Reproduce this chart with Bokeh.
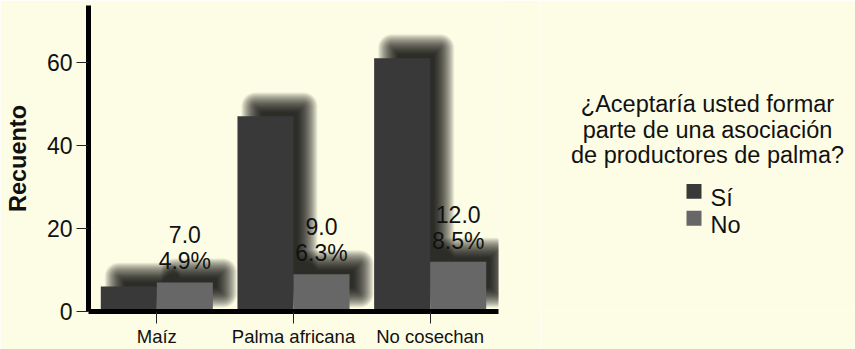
from bokeh.plotting import figure
from bokeh.models import Range1d, FixedTicker
from bokeh.layouts import row
from bokeh.embed import file_html
from bokeh.resources import INLINE
from bokeh.core.properties import value

# ---------------- data ----------------
categories = ["Maíz", "Palma africana", "No cosechan"]
series_names = ["Sí", "No"]
si_counts = [6, 47, 61]
no_counts = [7, 9, 12]
y_ticks = [0, 20, 40, 60]
legend_title = ["¿Aceptaría usted formar", "parte de una asociación", "de productores de palma?"]

# ---------------- style ----------------
BG = "#fdfde6"
C_SI = "#393939"
C_NO = "#676767"
FONT = "Liberation Sans"
TXT = "#111111"

W1, W2, H = 540, 315, 349
BL, BR, BT, BB = 88, 42, 5, 37
Y_MAX = 73.7
n = len(categories)
frame_w = W1 - BL - BR
frame_h = H - BT - BB
px_x = frame_w / n
px_y = frame_h / Y_MAX
BW = 0.41  # bar width in category units

total = sum(si_counts) + sum(no_counts)
centers = [i + 0.5 for i in range(n)]

p = figure(width=W1, height=H, x_range=Range1d(0, n), y_range=Range1d(0, Y_MAX),
           output_backend="svg", toolbar_location=None,
           min_border_left=BL, min_border_right=BR, min_border_top=BT, min_border_bottom=BB)
p.title.visible = False
p.background_fill_color = BG
p.border_fill_color = BG
p.outline_line_color = None
p.xgrid.visible = False
p.ygrid.visible = False

# bar geometry from data
lefts = [c - BW for c in centers] + centers
rights = centers + [c + BW for c in centers]
tops = si_counts + no_counts
colors = [C_SI] * n + [C_NO] * n

# soft drop shadow (layered to mimic blur), offset up-right
DX, DY = 14, 14
for e in range(-10, 11):
    p.quad(left=[l + (DX - e) / px_x for l in lefts],
           right=[r + (DX + e) / px_x for r in rights],
           top=[t + (DY + e) / px_y for t in tops],
           bottom=[(DY - e) / px_y for _ in tops],
           border_radius=max(1, e + 4),
           fill_color="black", fill_alpha=0.075, line_color=None)

p.quad(left=lefts, right=rights, top=tops, bottom=[0] * len(tops),
       fill_color=colors, line_color=None)

labels = [f"{v:.1f}\n{100 * v / total:.1f}%" for v in no_counts]
p.text(x=[c + BW / 2 for c in centers], y=no_counts, text=labels,
       text_align="center", text_baseline="bottom", y_offset=-8,
       text_font=value(FONT), text_font_size="23px", text_line_height=1.0,
       text_color=TXT)

# axes
p.yaxis.ticker = FixedTicker(ticks=y_ticks)
p.xaxis.ticker = FixedTicker(ticks=centers)
p.xaxis.major_label_overrides = {c: cat for c, cat in zip(centers, categories)}
for ax in (p.xaxis[0], p.yaxis[0]):
    ax.axis_line_width = 5
    ax.axis_line_color = "black"
    ax.major_tick_in = 0
    ax.minor_tick_in = 0
    ax.minor_tick_out = 0
    ax.major_tick_line_color = "#222222"
    ax.major_tick_line_width = 1
    ax.major_label_text_font = FONT
    ax.major_label_text_color = TXT
p.yaxis.major_tick_out = 12
p.yaxis.major_label_text_font_size = "23px"
p.yaxis.major_label_standoff = 4
p.yaxis.axis_label = "Recuento"
p.yaxis.axis_label_text_font = FONT
p.yaxis.axis_label_text_font_style = "bold"
p.yaxis.axis_label_text_font_size = "23.5px"
p.yaxis.axis_label_text_color = TXT
p.yaxis.axis_label_standoff = 13
p.xaxis.major_tick_out = 12
p.xaxis.major_label_text_font_size = "18.5px"
p.xaxis.major_label_standoff = 2

# ---------------- legend panel ----------------
# frame spans screen rows BT..H-BB, so data y == screen y
q = figure(width=W2, height=H, x_range=Range1d(0, W2), y_range=Range1d(H - BB, BT),
           output_backend="svg", toolbar_location=None,
           x_axis_location=None, y_axis_location=None,
           min_border_left=0, min_border_right=0, min_border_top=BT, min_border_bottom=BB)
q.title.visible = False
q.background_fill_color = BG
q.border_fill_color = BG
q.outline_line_color = None
q.grid.visible = False

q.text(x=[167] * len(legend_title), y=[104, 129.5, 155], text=legend_title,
       text_align="center", text_baseline="alphabetic",
       text_font=value(FONT), text_font_size="23.5px", text_color=TXT)
q.quad(left=[146, 146], right=[161, 161], top=[184, 211], bottom=[199, 226],
       fill_color=[C_SI, C_NO], line_color=None)
q.text(x=[170, 170], y=[198.5, 225.5], text=series_names,
       text_align="left", text_baseline="alphabetic",
       text_font=value(FONT), text_font_size="23.5px", text_color=TXT)

layout = row(p, q)
open("out.html", "w").write(file_html(layout, INLINE))
